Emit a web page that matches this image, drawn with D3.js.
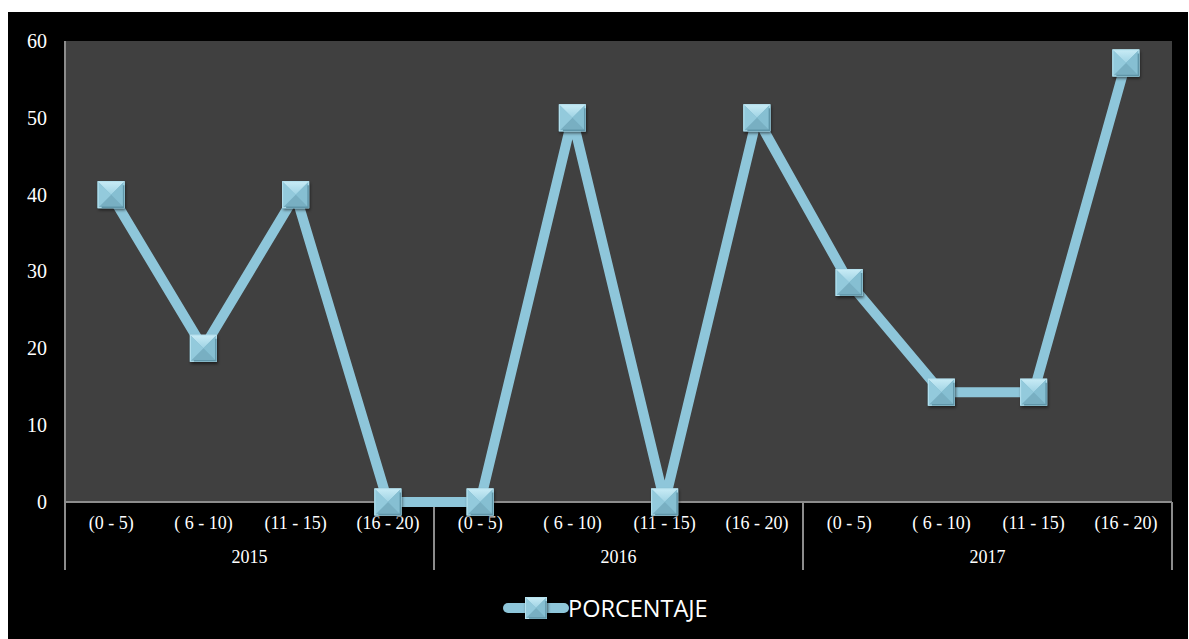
<!DOCTYPE html>
<html>
<head>
<meta charset="utf-8">
<script src="https://cdn.jsdelivr.net/npm/d3@7"></script>
<style>
  html, body { margin: 0; padding: 0; background: #ffffff; }
  svg { display: block; }
</style>
</head>
<body>
<svg id="chart" width="1189" height="639"></svg>
<script>
const ranges = ["(0 - 5)", "( 6 - 10)", "(11 - 15)", "(16 - 20)"];
const years = ["2015", "2016", "2017"];
const values = [40, 20, 40, 0, 0, 50, 0, 50, 28.57, 14.29, 14.29, 57.14];
const yTicks = [0, 10, 20, 30, 40, 50, 60];
const seriesName = "PORCENTAJE";

const categories = [];
years.forEach(y => ranges.forEach(r => categories.push({ year: y, range: r, key: y + "|" + r })));
const data = categories.map((c, i) => ({ ...c, value: values[i] }));

const svg = d3.select("#chart");
const W = 1189, H = 639;
const plot = { left: 65, right: 1172, top: 41, bottom: 502 };
const serif = "'Liberation Serif', 'Times New Roman', serif";

// backgrounds
svg.append("rect").attr("x", 8).attr("y", 12).attr("width", W - 9).attr("height", H - 12).attr("fill", "#000");
svg.append("rect").attr("x", plot.left).attr("y", plot.top)
  .attr("width", plot.right - plot.left).attr("height", plot.bottom - plot.top).attr("fill", "#404040");

const x = d3.scaleBand().domain(data.map(d => d.key)).range([plot.left, plot.right]);
const y = d3.scaleLinear().domain([0, 60]).range([plot.bottom, plot.top]);

// y axis labels
const yAxis = d3.axisLeft(y).tickValues(yTicks).tickSize(0).tickPadding(18);
const gy = svg.append("g").attr("transform", `translate(${plot.left},0)`).call(yAxis)
  .attr("font-family", serif).attr("font-size", 20);
gy.select(".domain").remove();
gy.selectAll("text").attr("fill", "#fff").attr("font-weight", "normal");

// axis lines
const axisColor = "#8c8c8c";
svg.append("line").attr("x1", plot.left).attr("x2", plot.left).attr("y1", plot.top).attr("y2", 570)
  .attr("stroke", axisColor).attr("stroke-width", 2);
svg.append("line").attr("x1", plot.left).attr("x2", plot.right).attr("y1", plot.bottom).attr("y2", plot.bottom)
  .attr("stroke", axisColor).attr("stroke-width", 2);

// category labels
const gx = svg.append("g").attr("transform", `translate(0,${plot.bottom})`)
  .call(d3.axisBottom(x).tickSize(0).tickPadding(14).tickFormat(k => k.split("|")[1]))
  .attr("font-family", serif).attr("font-size", 18);
gx.select(".domain").remove();
gx.selectAll("text").attr("fill", "#fff").attr("font-weight", "normal");

// year groups
years.forEach((yr, i) => {
  const keys = data.filter(d => d.year === yr).map(d => d.key);
  const x0 = x(keys[0]), x1 = x(keys[keys.length - 1]) + x.bandwidth();
  svg.append("line").attr("x1", x1).attr("x2", x1).attr("y1", plot.bottom).attr("y2", 570)
    .attr("stroke", axisColor).attr("stroke-width", 2);
  svg.append("text").attr("x", (x0 + x1) / 2).attr("y", 563).attr("text-anchor", "middle")
    .attr("fill", "#fff").attr("font-family", serif)
    .attr("font-size", 18).text(yr);
});

// line
const lineColor = "#8ec6da";
const line = d3.line().x(d => x(d.key) + x.bandwidth() / 2).y(d => y(d.value));
svg.append("path").datum(data).attr("d", line).attr("fill", "none")
  .attr("stroke", lineColor).attr("stroke-width", 10).attr("stroke-linejoin", "miter");

// marker defs
const defs = svg.append("defs");
const f = defs.append("filter").attr("id", "shadow").attr("x", "-50%").attr("y", "-50%").attr("width", "200%").attr("height", "200%");
f.append("feDropShadow").attr("dx", 1).attr("dy", 2).attr("stdDeviation", 1.5).attr("flood-color", "#000").attr("flood-opacity", 0.55);
const gTop = defs.append("linearGradient").attr("id", "gTop").attr("x1", 0).attr("y1", 0).attr("x2", 0).attr("y2", 1);
gTop.append("stop").attr("offset", 0).attr("stop-color", "#c9ecf6");
gTop.append("stop").attr("offset", 1).attr("stop-color", "#9fd3e4");

function marker(g, s) {
  const h = s / 2, b = 4;
  g.append("rect").attr("x", -h).attr("y", -h).attr("width", s).attr("height", s)
    .attr("fill", "#7fb8cb").attr("filter", "url(#shadow)");
  g.append("polygon").attr("points", `${-h},${-h} ${h},${-h} 0,0`).attr("fill", "url(#gTop)");
  g.append("polygon").attr("points", `${h},${-h} ${h},${h} 0,0`).attr("fill", "#86bfd2");
  g.append("polygon").attr("points", `${-h},${h} ${h},${h} 0,0`).attr("fill", "#78afc2");
  g.append("polygon").attr("points", `${-h},${-h} ${-h},${h} 0,0`).attr("fill", "#93cadc");
  g.append("rect").attr("x", -h + 0.5).attr("y", -h + 0.5).attr("width", s - 1).attr("height", s - 1)
    .attr("fill", "none").attr("stroke", "#b6e2ef").attr("stroke-width", 1);
  g.append("polyline").attr("points", `${-h + b},${h - 1} ${h - 1},${h - 1} ${h - 1},${-h + b}`)
    .attr("fill", "none").attr("stroke", "#5f95a8").attr("stroke-width", 1.5);
}

svg.append("g").selectAll("g.m").data(data).join("g").attr("class", "m")
  .attr("transform", d => `translate(${x(d.key) + x.bandwidth() / 2},${y(d.value)})`)
  .each(function () { marker(d3.select(this), 27); });

// legend
const lg = svg.append("g").attr("transform", "translate(536,608)");
lg.append("line").attr("x1", -28).attr("x2", 28).attr("y1", 0).attr("y2", 0)
  .attr("stroke", lineColor).attr("stroke-width", 10).attr("stroke-linecap", "round");
marker(lg.append("g"), 22);
lg.append("text").attr("x", 32).attr("y", 9).attr("fill", "#fff")
  .attr("font-family", "'Open Sans', 'Noto Sans', sans-serif").attr("font-size", 23.5).text(seriesName);
</script>
</body>
</html>
